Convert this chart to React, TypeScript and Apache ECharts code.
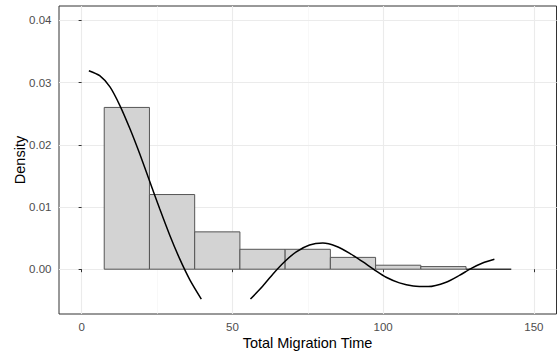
import React, { useEffect, useRef } from "react";
import * as echarts from "echarts";

// Histogram bins (density)
const binStart = [7.5, 22.5, 37.5, 52.5, 67.5, 82.5, 97.5, 112.5, 127.5];
const binEnd = [22.5, 37.5, 52.5, 67.5, 82.5, 97.5, 112.5, 127.5, 142.5];
const binDensity = [0.026, 0.012, 0.006, 0.0032, 0.0032, 0.0019, 0.00064, 0.00042, 0];

// Fitted curve, first visible piece
const curve1X = [2.4, 6.0, 9.4, 12.7, 16.0, 19.3, 22.6, 25.9, 29.2, 32.5, 35.9, 39.7];
const curve1Y = [0.0319, 0.0311, 0.0293, 0.0263, 0.0226, 0.0185, 0.0141, 0.0097, 0.0055, 0.0017, -0.0017, -0.0048];

// Fitted curve, second visible piece
const curve2X = [56.0, 60.1, 63.4, 67.3, 71.2, 75.6, 80.0, 84.4, 88.8, 93.2, 97.1, 101.0, 105.4, 110.0, 115.0, 120.9, 125.3, 129.1, 133.0, 136.9];
const curve2Y = [-0.0048, -0.0027, -0.0008, 0.0012, 0.0028, 0.0039, 0.0042, 0.0037, 0.0026, 0.0012, -0.0001, -0.0013, -0.0022, -0.0027, -0.0028, -0.0021, -0.001, 0.0001, 0.001, 0.0016];

// Axis ticks and titles
const xTicks = [0, 50, 100, 150];
const xMinor = [25, 75, 125];
const yTicks = [0, 0.01, 0.02, 0.03, 0.04];
const yMinor = [-0.005, 0.005, 0.015, 0.025, 0.035];
const xTitle = "Total Migration Time";
const yTitle = "Density";

const X_MIN = -7.5;
const X_MAX = 157.5;
const Y_MIN = -0.0072;
const Y_MAX = 0.0423;

const FONT = "'Liberation Sans', Arial, sans-serif";

export default function App() {
  const ref = useRef<HTMLDivElement>(null);

  useEffect(() => {
    if (!ref.current) return;
    const chart = echarts.init(ref.current, undefined, { renderer: "svg" });

    const histData = binStart.map((s, i) => [s, binEnd[i], binDensity[i]]);
    const c1 = curve1X.map((x, i) => [x, curve1Y[i]]);
    const c2 = curve2X.map((x, i) => [x, curve2Y[i]]);

    const minorStyle = { color: "#F3F3F3", width: 0.6, type: "solid" };
    const majorStyle = { color: "#EBEBEB", width: 1.1, type: "solid" };
    const gridLines = [
      ...xMinor.map((v) => ({ xAxis: v, lineStyle: minorStyle })),
      ...yMinor.map((v) => ({ yAxis: v, lineStyle: minorStyle })),
      ...xTicks.map((v) => ({ xAxis: v, lineStyle: majorStyle })),
      ...yTicks.map((v) => ({ yAxis: v, lineStyle: majorStyle })),
    ];

    chart.setOption({
      animation: false,
      backgroundColor: "#FFFFFF",
      textStyle: { fontFamily: FONT },
      grid: {
        left: 59,
        right: 1.5,
        top: 6,
        bottom: 42,
        show: true,
        borderColor: "#333333",
        borderWidth: 1,
        backgroundColor: "transparent",
        containLabel: false,
      },
      graphic: [
        {
          type: "text",
          x: 307.5,
          y: 343,
          silent: true,
          style: {
            text: xTitle,
            fill: "#000000",
            fontSize: 14.5,
            fontFamily: FONT,
            textAlign: "center",
            textVerticalAlign: "middle",
          },
        },
        {
          type: "text",
          x: 19.5,
          y: 160,
          rotation: Math.PI / 2,
          silent: true,
          style: {
            text: yTitle,
            fill: "#000000",
            fontSize: 14.5,
            fontFamily: FONT,
            textAlign: "center",
            textVerticalAlign: "middle",
          },
        },
      ],
      xAxis: {
        type: "value",
        min: X_MIN,
        max: X_MAX,
        axisLine: { show: false },
        splitLine: { show: false },
        axisTick: {
          show: true,
          length: 3,
          lineStyle: { color: "#333333" },
          customValues: xTicks,
        },
        axisLabel: {
          color: "#4D4D4D",
          fontSize: 11.5,
          margin: 7,
          fontFamily: FONT,
          customValues: xTicks,
        },
      },
      yAxis: {
        type: "value",
        min: Y_MIN,
        max: Y_MAX,
        axisLine: { show: false },
        splitLine: { show: false },
        axisTick: {
          show: true,
          length: 3,
          lineStyle: { color: "#333333" },
          customValues: yTicks,
        },
        axisLabel: {
          color: "#4D4D4D",
          fontSize: 11.5,
          margin: 7.5,
          fontFamily: FONT,
          customValues: yTicks,
          formatter: (v: number) => v.toFixed(2),
        },
      },
      series: [
        {
          type: "line",
          data: [],
          silent: true,
          z: 0,
          markLine: {
            silent: true,
            symbol: "none",
            label: { show: false },
            animation: false,
            z: 0,
            data: gridLines,
          },
        },
        {
          type: "custom",
          z: 2,
          silent: true,
          encode: { x: [0, 1], y: 2 },
          data: histData,
          renderItem: (params: any, api: any) => {
            const x0 = api.value(0);
            const x1 = api.value(1);
            const h = api.value(2);
            const p0 = api.coord([x0, 0]);
            const p1 = api.coord([x1, h]);
            if (h === 0) {
              return {
                type: "line",
                shape: { x1: p0[0], y1: p0[1], x2: p1[0], y2: p0[1] },
                style: { stroke: "#333333", lineWidth: 1.6 },
              };
            }
            return {
              type: "rect",
              shape: {
                x: p0[0],
                y: p1[1],
                width: p1[0] - p0[0],
                height: p0[1] - p1[1],
              },
              style: { fill: "#D3D3D3", stroke: "#555555", lineWidth: 1 },
            };
          },
        },
        {
          type: "line",
          z: 3,
          data: c1,
          smooth: 0.25,
          showSymbol: false,
          silent: true,
          lineStyle: { color: "#000000", width: 1.5 },
        },
        {
          type: "line",
          z: 3,
          data: c2,
          smooth: 0.25,
          showSymbol: false,
          silent: true,
          lineStyle: { color: "#000000", width: 1.5 },
        },
      ],
    });

    return () => chart.dispose();
  }, []);

  return (
    <div
      ref={ref}
      style={{ position: "absolute", left: 0, top: 0, width: 558, height: 356 }}
    />
  );
}
